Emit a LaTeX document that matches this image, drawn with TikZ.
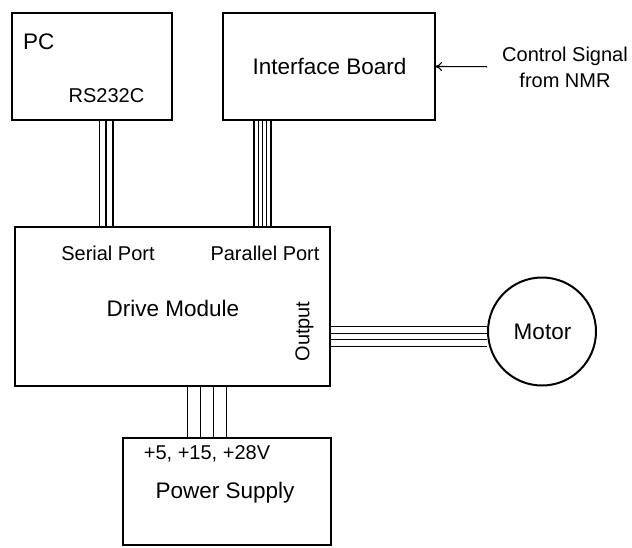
\documentclass[tikz,border=0pt]{standalone}
\usepackage{fontspec}
\setmainfont{Liberation Sans}
\usetikzlibrary{arrows.meta}
\begin{document}
\begin{tikzpicture}[x=1pt,y=-1pt,
  blk/.style={draw,line width=2pt,rectangle,inner sep=0pt,outer sep=0pt},
  big/.style={font=\fontsize{22.5}{26}\selectfont,inner sep=0pt},
  small/.style={font=\fontsize{20}{26}\selectfont,inner sep=0pt},
  wire/.style={line width=1.1pt}]
\useasboundingbox (0,0) rectangle (632,547);
% blocks
\node[blk,minimum width=160pt,minimum height=107pt] (pc) at (92,66.5) {};
\node[blk,minimum width=212pt,minimum height=107pt] (ib) at (329,66.5) {};
\node[blk,minimum width=315pt,minimum height=159pt] (drv) at (172.5,306.5) {};
\node[blk,minimum width=208pt,minimum height=106.7pt] (ps) at (226.7,491.7) {};
\node[draw,line width=2pt,circle,minimum size=108pt,inner sep=0pt] (mot) at (542,331.5) {};
% texts
\node[big,anchor=base west] (pct) at (23,49) {PC};
\node[small] (rs) at (106.5,96) {RS232C};
\node[big] (ibt) at (329.5,66) {Interface Board};
\node[small,align=center] (ctl) at (565,67) {Control Signal\\from NMR};
\node[small] (ser) at (108,253.7) {Serial Port};
\node[small] (par) at (265,253.7) {Parallel Port};
\node[big] (drt) at (173,308) {Drive Module};
\node[small,rotate=90] (out) at (304.5,331.5) {Output};
\node[big] (mt) at (542.5,332) {Motor};
\node[small] (volt) at (207,454) {+5, +15, +28V};
\node[big] (pst) at (225,493) {Power Supply};
% control arrow
\coordinate (cs) at (487,66.7);
\draw[line width=1.1pt,-{To[length=7pt,width=9pt]}] (cs) -- (ib.east);
% serial cable
\foreach \x in {99.5,106,113}
  \draw[wire] (\x,0 |- pc.south) -- (\x,0 |- drv.north);
% parallel cable
\foreach \x in {254,258.25,262.5,266.75,271}
  \draw[wire] (\x,0 |- ib.south) -- (\x,0 |- drv.north);
% output cable
\foreach \y in {326.5,333.2,339.9,346.6}
  \draw[wire] (drv.east |- 0,\y) -- (mot.west |- 0,\y);
% power cable
\foreach \x in {187.3,200.5,213.5,226.7}
  \draw[wire] (\x,0 |- drv.south) -- (\x,0 |- ps.north);
\end{tikzpicture}
\end{document}
